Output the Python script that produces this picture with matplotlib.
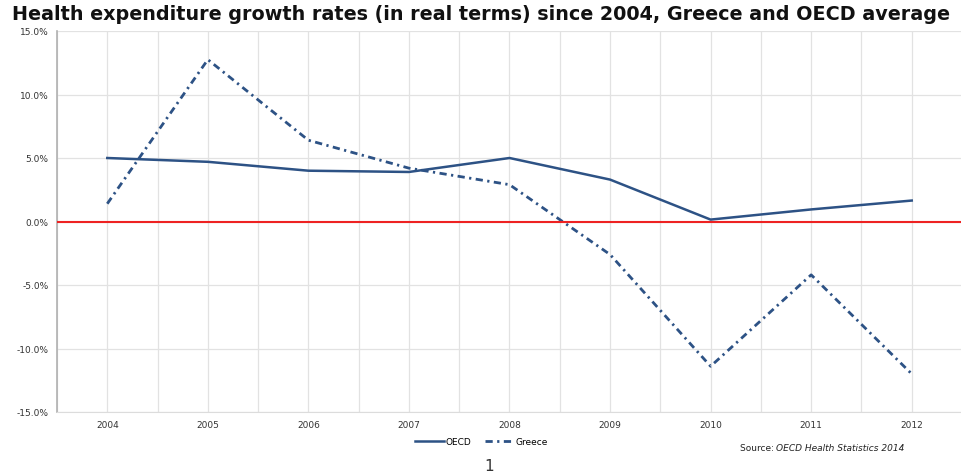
import matplotlib.pyplot as plt
import numpy as np

years = ["2004", "2005", "2006", "2007", "2008", "2009", "2010", "2011", "2012"]
oecd = [5.0, 4.7, 4.0, 3.9, 5.0, 3.3, 0.15, 0.95, 1.65]
greece = [1.4, 12.75, 6.4, 4.2, 2.9, -2.6, -11.4, -4.2, -12.0]
y_ticks = [-15, -10, -5, 0, 5, 10, 15]

line_col = "#2d5285"

fig = plt.figure(figsize=(9.61, 4.77), dpi=100)
ax = fig.add_axes([57 / 961, 1 - 413 / 477, (962 - 57) / 961, (413 - 32) / 477])

x = np.arange(len(years))
ax.plot(x, oecd, color=line_col, lw=1.8, label="OECD")
ax.plot(x, greece, color=line_col, lw=2.0, dashes=(2.6, 1.6, 0.8, 1.6), label="Greece")
ax.axhline(0, color="#ee2222", lw=1.5, zorder=3)

ax.set_xlim(-0.5, len(years) - 0.5)
ax.set_ylim(-15, 15)
ax.set_yticks(y_ticks)
ax.set_yticklabels([f"{v:.1f}%" for v in y_ticks], fontsize=6.5, color="#333333")
ax.set_xticks(x)
ax.set_xticklabels(years, fontsize=6.5, color="#333333")
ax.set_xticks(np.arange(-0.5, len(years), 1.0), minor=True)
ax.tick_params(axis="both", length=0, pad=6)
ax.tick_params(axis="x", which="minor", length=0)

ax.grid(True, which="both", axis="x", color="#e2e2e2", lw=0.9)
ax.grid(True, which="major", axis="y", color="#e2e2e2", lw=0.9)
ax.set_axisbelow(True)
for side in ["top", "right"]:
    ax.spines[side].set_visible(False)
ax.spines["left"].set_color("#b0b0b0")
ax.spines["bottom"].set_color("#dcdcdc")
ax.spines["left"].set_linewidth(1.2)

fig.text(0.5, 1 - 14 / 477, "Health expenditure growth rates (in real terms) since 2004, Greece and OECD average",
         ha="center", va="center", fontsize=13.8, fontweight="bold", color="#111111")

ax.legend(loc="upper left", bbox_to_anchor=(350 / 905, -0.045), ncol=2, frameon=False,
          fontsize=6.5, handlelength=3.2, handletextpad=0.2, columnspacing=1.5)

fig.text(740 / 961, 1 - 449 / 477, "Source: ", fontsize=6.5, color="#222222", va="center")
fig.text(776 / 961, 1 - 449 / 477, "OECD Health Statistics 2014", fontsize=6.5, color="#222222",
         va="center", style="italic")
fig.text(489 / 961, 1 - 467 / 477, "1", fontsize=11, color="#333333", ha="center", va="center")

fig.savefig("out.png", dpi=100)
